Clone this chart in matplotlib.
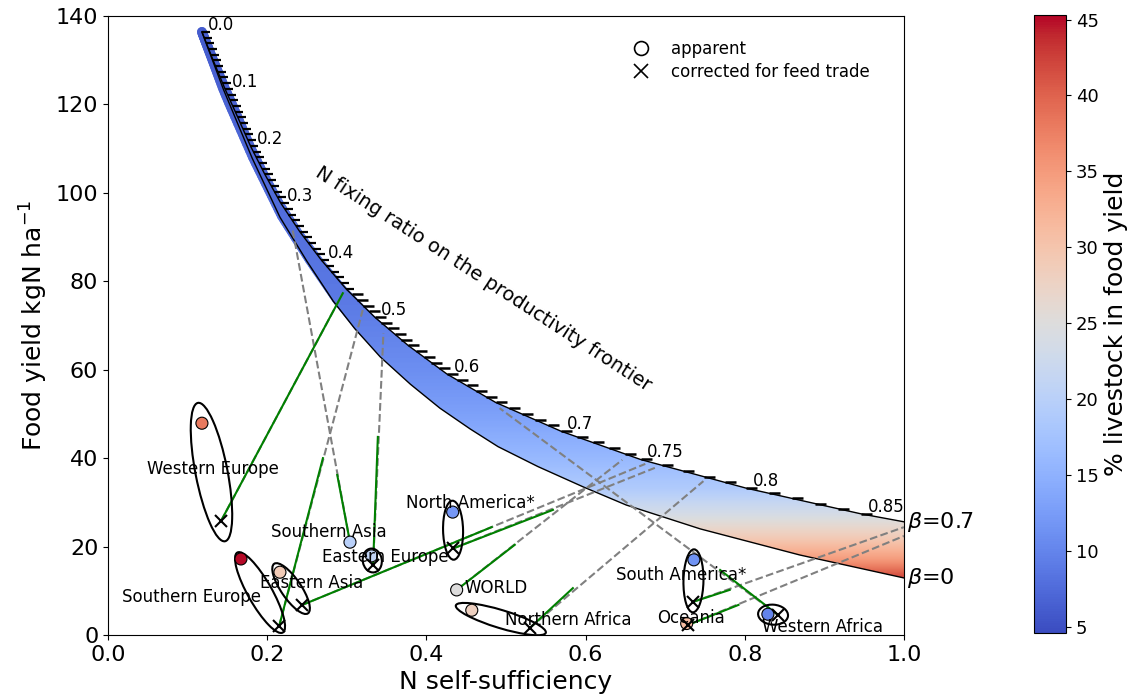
import numpy as np
import matplotlib
matplotlib.use('Agg')
from matplotlib import pyplot as plt
from matplotlib.patches import Ellipse, Polygon
from matplotlib.lines import Line2D
from matplotlib.collections import LineCollection
import matplotlib.transforms as mtransforms
import matplotlib.colors as mcolors
import matplotlib.cm as cm

# productivity frontier (beta = 0.7), read along the N fixing ratio
fix_ratio = [0.0, 0.05, 0.1, 0.15, 0.2, 0.25, 0.3, 0.35, 0.4, 0.45, 0.5, 0.55,
             0.6, 0.65, 0.7, 0.75, 0.8, 0.85, 0.86]
front_x = [0.118, 0.132, 0.147, 0.163, 0.179, 0.197, 0.217, 0.241, 0.268, 0.299,
           0.335, 0.377, 0.426, 0.487, 0.569, 0.669, 0.802, 0.946, 1.0]
front_y = [136.4, 130.0, 123.5, 117.1, 110.6, 104.2, 97.7, 91.2, 84.8, 78.3,
           71.9, 65.5, 59.0, 52.6, 46.1, 39.7, 33.2, 27.4, 25.6]
frontier_labels = ['0.0', '0.1', '0.2', '0.3', '0.4', '0.5', '0.6', '0.7', '0.75', '0.8', '0.85']

# beta = 0 curve
low_x = [0.118, 0.145, 0.181, 0.216, 0.250, 0.283, 0.310, 0.342, 0.380, 0.417, 0.455,
         0.490, 0.540, 0.597, 0.651, 0.744, 0.869, 1.0]
low_y = [136.4, 123.4, 107.9, 94.5, 84.5, 75.5, 69.3, 62.9, 56.7, 51.3, 46.6,
         42.6, 38.1, 33.5, 29.4, 24.0, 18.1, 12.9]

# livestock share shown inside the frontier band, by food yield
shade_y = [10, 13, 17, 22, 27, 33, 40, 50, 60, 75, 100, 140]
shade_val = [44, 42, 35, 29, 24, 19, 16, 13, 11, 9, 7.5, 6]

# regions
names = ['Western Europe', 'Southern Europe', 'Eastern Asia', 'Southern Asia', 'Eastern Europe',
         'North America*', 'WORLD', 'Northern Africa', 'South America*', 'Oceania', 'Western Africa']
app_x = [0.118, 0.167, 0.216, 0.304, 0.331, 0.433, 0.438, 0.457, 0.736, 0.727, 0.829]
app_y = [47.9, 17.2, 14.2, 21.0, 17.9, 27.8, 10.2, 5.6, 17.0, 2.6, 4.7]
livestock = [38, 45, 29, 20, 21, 12, 25, 28, 11.5, 31, 10]
cor_x = [0.142, 0.215, 0.244, np.nan, 0.333, 0.434, np.nan, 0.530, 0.735, 0.729, 0.842]
cor_y = [25.8, 2.0, 6.8, np.nan, 15.8, 19.6, np.nan, 1.6, 7.5, 2.3, 4.5]
green_x = [0.295, 0.270, 0.482, 0.288, 0.339, 0.559, 0.511, 0.584, 0.781, 0.792, 0.769]
green_y = [77.3, 40.0, 24.4, 36.2, 44.8, 28.3, 20.4, 10.6, 10.2, 6.8, 14.7]
fr_x = [0.295, 0.320, 0.675, 0.232, 0.346, 0.687, 0.646, 0.748, 1.0, 1.0, 0.492]
fr_y = [77.3, 73.5, 38.7, 91.6, 68.3, 37.8, 39.6, 34.8, 24.4, 22.4, 51.3]
label_x = [0.132, 0.105, 0.256, 0.277, 0.349, 0.455, 0.488, 0.578, 0.720, 0.732, 0.897]
label_y = [37.5, 8.6, 11.8, 23.4, 17.7, 29.9, 10.7, 3.4, 13.6, 3.8, 1.9]

# ellipse sizes around apparent/corrected pairs, in pixels (major along the pair)
ell_major = [141, 92, 60, 0, 24, 59, 0, 94, 63, 0, 30]
ell_minor = [32, 24, 20, 0, 19, 20, 0, 18, 20, 0, 20]

cmap = plt.get_cmap('coolwarm')
norm = mcolors.Normalize(vmin=4.6, vmax=45.3)

fig = plt.figure(figsize=(11.3, 6.99), dpi=100)
ax = fig.add_axes([108 / 1130, 64 / 699, 796 / 1130, 619 / 699])
ax.set_xlim(0, 1.0)
ax.set_ylim(0, 140)

# band between the two curves, coloured by livestock share
yy = np.linspace(0, 140, 700)
grad = np.interp(yy, shade_y, shade_val)
img = ax.imshow(np.repeat(grad[:, None], 2, axis=1), extent=[0, 1, 0, 140], origin='lower',
                aspect='auto', cmap=cmap, norm=norm, zorder=1, interpolation='bilinear')
band = Polygon(np.column_stack([np.r_[front_x, low_x[::-1]], np.r_[front_y, low_y[::-1]]]),
               closed=True, fc='none', ec='none', transform=ax.transData)
ax.add_patch(band)
img.set_clip_path(band)

# thick rounded stroke near the top of the band, thinning out downwards
for cx, cy in [(front_x, front_y), (low_x, low_y)]:
    s = np.linspace(0, len(cx) - 1, 20 * (len(cx) - 1) + 1)
    px = np.interp(s, np.arange(len(cx)), cx)
    py = np.interp(s, np.arange(len(cy)), cy)
    pts = np.column_stack([px, py])
    segs = np.stack([pts[:-1], pts[1:]], axis=1)
    ymid = segs[:, :, 1].mean(axis=1)
    cols = cmap(norm(np.interp(ymid, shade_y, shade_val)))
    widths = np.clip((ymid - 65) / 55, 0, 1) * 7
    lc = LineCollection(segs, colors=cols, linewidths=widths, capstyle='round', zorder=1.2)
    ax.add_collection(lc)

ax.plot(front_x, front_y, color='k', lw=1, zorder=2)
ax.plot(low_x, low_y, color='k', lw=1, zorder=2)

# small ticks every 0.01 of fixing ratio, shorter on the steep part
f_steep = np.arange(0, 0.455, 0.01)
f_flat = np.arange(0.46, 0.8601, 0.01)
ax.plot(np.interp(f_steep, fix_ratio, front_x), np.interp(f_steep, fix_ratio, front_y),
        ls='none', marker=1, ms=5.5, mew=1.6, color='k', zorder=2)
ax.plot(np.interp(f_flat, fix_ratio, front_x), np.interp(f_flat, fix_ratio, front_y),
        ls='none', marker=1, ms=8, mew=1.8, color='k', zorder=2)
for lab in frontier_labels:
    f = float(lab)
    ax.text(np.interp(f, fix_ratio, front_x) + 0.008, np.interp(f, fix_ratio, front_y) + 0.5, lab,
            fontsize=12, ha='left', va='baseline', zorder=6)

ax.text(0.471, 80.5, 'N fixing ratio on the productivity frontier', rotation=-33,
        rotation_mode='anchor', ha='center', va='center', fontsize=14)
ax.text(1.004, 25.6, r'$\beta$=0.7', fontsize=16, ha='left', va='center', clip_on=False)
ax.text(1.004, 12.9, r'$\beta$=0', fontsize=16, ha='left', va='center', clip_on=False)

# lines to the frontier
for i in range(len(names)):
    sx, sy = (cor_x[i], cor_y[i]) if not np.isnan(cor_x[i]) else (app_x[i], app_y[i])
    ax.plot([sx, fr_x[i]], [sy, fr_y[i]], ls='--', color='grey', lw=1.5, zorder=3)
    ax.plot([sx, green_x[i]], [sy, green_y[i]], color='green', lw=1.5, zorder=3.1)

# ellipses
for i in range(len(names)):
    if ell_major[i] == 0:
        continue
    cx = (app_x[i] + cor_x[i]) / 2
    cy = (app_y[i] + cor_y[i]) / 2
    p1 = ax.transData.transform((app_x[i], app_y[i]))
    p2 = ax.transData.transform((cor_x[i], cor_y[i]))
    ang = np.degrees(np.arctan2(p2[1] - p1[1], p2[0] - p1[0]))
    tr = fig.dpi_scale_trans + mtransforms.ScaledTranslation(cx, cy, ax.transData)
    e = Ellipse((0, 0), ell_major[i] / 100, ell_minor[i] / 100, angle=ang,
                fc='none', ec='k', lw=1.5, transform=tr, zorder=4)
    ax.add_patch(e)

ax.scatter(app_x, app_y, c=livestock, cmap=cmap, norm=norm, s=75, edgecolors='k',
           linewidths=0.8, zorder=5)
ax.plot(cor_x, cor_y, ls='none', marker='x', ms=8, mew=1.5, color='k', zorder=5)

for i, nm in enumerate(names):
    ax.text(label_x[i], label_y[i], nm, fontsize=12, ha='center', va='center', zorder=6)

handles = [Line2D([], [], ls='none', marker='o', mfc='none', mec='k', ms=10, mew=1.2),
           Line2D([], [], ls='none', marker='x', color='k', ms=10, mew=1.2)]
ax.legend(handles, ['apparent', 'corrected for feed trade'], loc='upper left',
          bbox_to_anchor=(0.63, 0.985), frameon=False, fontsize=12, handletextpad=0.8,
          labelspacing=0.3)

ax.set_xticks([0, 0.2, 0.4, 0.6, 0.8, 1.0])
ax.set_xticklabels(['0.0', '0.2', '0.4', '0.6', '0.8', '1.0'])
ax.set_yticks(range(0, 141, 20))
ax.tick_params(labelsize=16)
ax.set_xlabel('N self-sufficiency', fontsize=18)
ax.set_ylabel(r'Food yield kgN ha$^{-1}$', fontsize=18)

cax = fig.add_axes([1034 / 1130, 66 / 699, 32 / 1130, 618 / 699])
cb = fig.colorbar(cm.ScalarMappable(norm=norm, cmap=cmap), cax=cax, ticks=range(5, 46, 5))
cb.ax.tick_params(labelsize=13)
cb.set_label('% livestock in food yield', fontsize=18)

fig.savefig('out.png', dpi=100)
